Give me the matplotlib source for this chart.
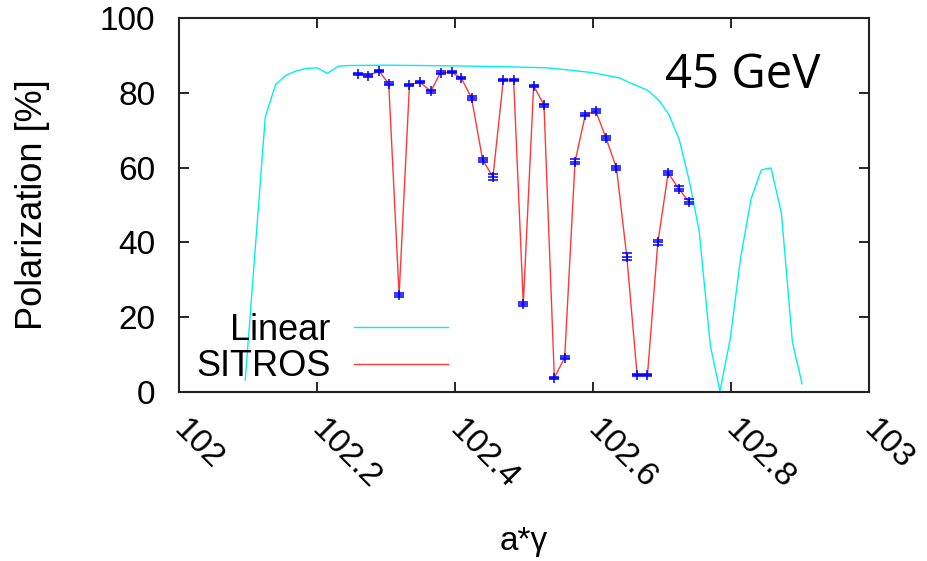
import matplotlib
matplotlib.use("Agg")
import matplotlib.pyplot as plt

plt.rcParams['font.family'] = ['Liberation Sans', 'DejaVu Sans']

# Linear (cyan) curve
linear_x = [102.096, 102.125, 102.140, 102.155, 102.169, 102.184, 102.200, 102.215,
            102.231, 102.246, 102.300, 102.348, 102.400, 102.464, 102.531, 102.560,
            102.599, 102.638, 102.657, 102.679, 102.696, 102.710, 102.725, 102.740,
            102.754, 102.770, 102.784, 102.799, 102.814, 102.829, 102.844, 102.858,
            102.873, 102.889, 102.903]
linear_p = [3.2, 73.5, 82.2, 84.7, 85.8, 86.5, 86.7, 85.2,
            87.1, 87.3, 87.4, 87.3, 87.2, 87.0, 86.7, 86.2,
            85.4, 84.0, 82.4, 80.7, 77.9, 74.2, 67.5, 56.1,
            42.9, 12.5, 0.2, 14.3, 35.9, 51.6, 59.4, 59.9,
            48.0, 13.4, 2.2]

# SITROS (red line, blue markers)
sitros_x = [102.259, 102.274, 102.290, 102.304, 102.319, 102.334, 102.349, 102.365,
            102.379, 102.395, 102.409, 102.424, 102.440, 102.455, 102.470, 102.485,
            102.499, 102.514, 102.529, 102.544, 102.559, 102.574, 102.589, 102.604,
            102.619, 102.634, 102.649, 102.664, 102.679, 102.694, 102.709, 102.724,
            102.739]
sitros_p = [85.1, 84.6, 85.8, 82.4, 25.9, 82.1, 82.9, 80.4,
            85.4, 85.5, 84.0, 78.6, 62.1, 57.5, 83.4, 83.4,
            23.6, 81.9, 76.7, 3.8, 9.2, 61.6, 74.2, 75.1,
            67.9, 59.9, 36.2, 4.5, 4.6, 40.0, 58.6, 54.4,
            50.9]
sitros_err = [0.3, 0.5, 0.3, 0.4, 0.5, 0.3, 0.3, 0.4,
              0.3, 0.3, 0.3, 0.5, 0.6, 0.7, 0.3, 0.3,
              0.6, 0.3, 0.4, 0.3, 0.5, 0.6, 0.5, 0.5,
              0.6, 0.5, 0.9, 0.3, 0.3, 0.7, 0.6, 0.6,
              0.6]

xticks = [102, 102.2, 102.4, 102.6, 102.8, 103]
xtick_labels = ['102', '102.2', '102.4', '102.6', '102.8', '103']
yticks = [0, 20, 40, 60, 80, 100]

fig = plt.figure(figsize=(9.27, 5.61), dpi=100)
ax = fig.add_axes([0.1931, 0.3012, 0.7443, 0.6667])

ax.plot(linear_x, linear_p, color='#00f0f0', lw=1.0, label='Linear')
ax.plot(sitros_x, sitros_p, color='#ff3838', lw=1.0, label='SITROS')
ax.errorbar(sitros_x, sitros_p, yerr=sitros_err, fmt='+', color='#0000ff',
            ms=7.5, mew=1.1, elinewidth=0.8, capsize=3.5, capthick=0.9, zorder=3)

ax.set_xlim(102, 103)
ax.set_ylim(0, 100)
ax.set_xticks(xticks)
ax.set_xticklabels(xtick_labels, rotation=-45, ha='left', va='center',
                   rotation_mode='anchor')
ax.set_yticks(yticks)

ax.tick_params(direction='in', length=7, width=1.2, top=True, right=True,
               labelsize=24, colors='#000000')
ax.tick_params(axis='x', pad=24)
ax.tick_params(axis='y', pad=17)
for s in ax.spines.values():
    s.set_linewidth(1.5)
    s.set_color('#222222')

ax.set_xlabel('a*γ', fontsize=24, labelpad=22)
ax.set_ylabel('Polarization [%]', fontsize=26, labelpad=36)

ax.text(0.704, 0.813, '45 GeV', transform=ax.transAxes, fontsize=34,
        family='Open Sans', va='baseline', ha='left')

ax.legend(loc='lower right', bbox_to_anchor=(0.416, -0.028), frameon=False,
          markerfirst=False, fontsize=26, handlelength=2.6, handletextpad=0.65,
          labelspacing=0.05, borderpad=0)

fig.savefig('out.png', dpi=100)
